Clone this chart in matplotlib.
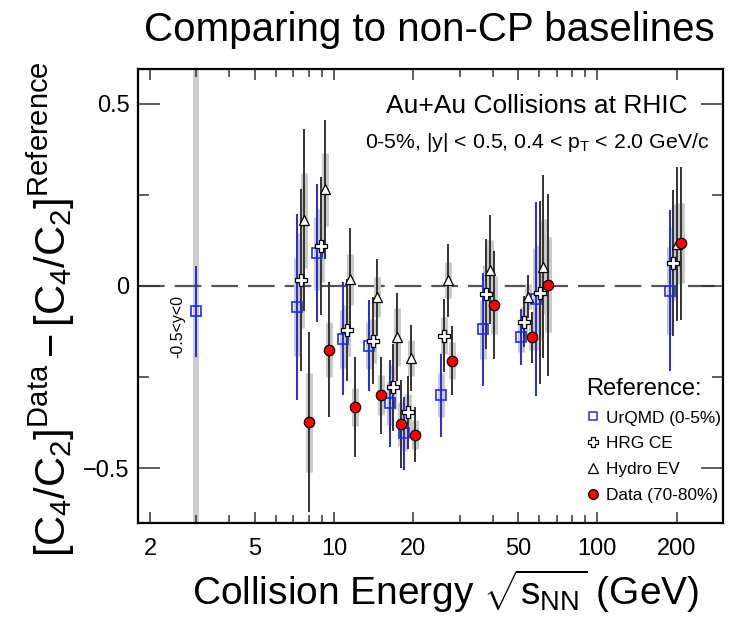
import numpy as np
import matplotlib
matplotlib.use('Agg')
import matplotlib.pyplot as plt
from matplotlib.lines import Line2D
from matplotlib.ticker import FixedLocator, NullFormatter

plt.rcParams['font.family'] = ['Liberation Sans', 'DejaVu Sans']
plt.rcParams['mathtext.fontset'] = 'custom'
plt.rcParams['mathtext.rm'] = 'Liberation Sans'
plt.rcParams['mathtext.it'] = 'Liberation Sans'
plt.rcParams['mathtext.bf'] = 'Liberation Sans:bold'

# collision energies (GeV)
energy = [7.7, 9.2, 11.5, 14.5, 17.3, 19.6, 27, 39, 54.4, 62.4, 200]

# UrQMD (0-5%)
urqmd = [-0.057, 0.090, -0.145, -0.164, -0.322, -0.404, -0.300, -0.119, -0.141, -0.036, -0.013]
urqmd_stat = [0.255, 0.19, 0.155, 0.125, 0.12, 0.10, 0.113, 0.155, 0.077, 0.265, 0.22]
urqmd_sys = [0.135, 0.10, 0.08, 0.065, 0.06, 0.05, 0.06, 0.08, 0.04, 0.14, 0.12]
# 3 GeV point (-0.5<y<0)
e_fxt = [3.0]
urqmd_fxt = [-0.069]
urqmd_fxt_stat = [0.125]

# HRG CE
hrg = [0.016, 0.110, -0.122, -0.150, -0.278, -0.347, -0.136, -0.022, -0.098, -0.018, 0.062]
hrg_stat = [0.25, 0.19, 0.14, 0.12, 0.12, 0.10, 0.10, 0.15, 0.07, 0.25, 0.20]
hrg_sys = [0.13, 0.10, 0.07, 0.06, 0.06, 0.05, 0.05, 0.08, 0.04, 0.13, 0.10]

# Hydro EV
hydro = [0.180, 0.265, 0.018, -0.031, -0.140, -0.197, 0.016, 0.045, -0.029, 0.053, 0.115]
hydro_stat = [0.25, 0.19, 0.14, 0.105, 0.12, 0.09, 0.10, 0.15, 0.06, 0.25, 0.21]
hydro_sys = [0.13, 0.10, 0.07, 0.055, 0.08, 0.05, 0.05, 0.08, 0.035, 0.13, 0.11]

# Data (70-80%)
data = [-0.374, -0.175, -0.332, -0.300, -0.378, -0.408, -0.205, -0.052, -0.141, 0.003, 0.117]
data_stat = [0.247, 0.185, 0.138, 0.105, 0.12, 0.075, 0.095, 0.147, 0.07, 0.25, 0.21]
data_sys = [0.135, 0.075, 0.053, 0.055, 0.06, 0.04, 0.05, 0.08, 0.035, 0.13, 0.11]

blue = '#1f2be8'
dark = '#333333'
box = '#c9c9c9'

fig = plt.figure(figsize=(7.37, 6.17), dpi=100)
ax = fig.add_axes([0.1872, 0.1524, 0.7938, 0.7358])

E = np.array(energy)
series = [
    (E * 0.94, urqmd, urqmd_stat, urqmd_sys, blue, dict(marker='s', mfc='none', mec=blue, ms=6.5, mew=1.2)),
    (E * 0.97, hrg, hrg_stat, hrg_sys, dark, dict(marker='P', mfc='white', mec='black', ms=8, mew=0.9)),
    (E * 1.00, hydro, hydro_stat, hydro_sys, dark, dict(marker='^', mfc='white', mec='black', ms=7, mew=0.9)),
    (E * 1.04, data, data_stat, data_sys, dark, dict(marker='o', mfc='#ff0000', mec='black', ms=7.5, mew=0.9)),
]

# 3 GeV band
ax.axvspan(2.92, 3.08, color='#cccccc', lw=0, zorder=0)
ax.axhline(0, color='#555555', lw=1.6, dashes=(12, 4.5), zorder=1)

for x, y, st, sy, ecol, mk in series:
    y = np.array(y)
    ax.vlines(x, y - np.array(sy), y + np.array(sy), color=box, lw=5, zorder=2)
    ax.vlines(x, y - np.array(st), y + np.array(st), color=ecol, lw=1.4, zorder=3)
    ax.plot(x, y, ls='none', zorder=5, **mk)

ax.vlines(e_fxt, np.array(urqmd_fxt) - urqmd_fxt_stat, np.array(urqmd_fxt) + urqmd_fxt_stat,
          color=blue, lw=1.4, zorder=3)
ax.plot(e_fxt, urqmd_fxt, ls='none', zorder=5, **series[0][5])
ax.text(2.55, -0.11, '-0.5<y<0', rotation=90, ha='center', va='center', fontsize=11.5)

ax.set_xscale('log')
ax.set_xlim(1.8, 300)
ax.set_ylim(-0.65, 0.595)

ax.xaxis.set_major_locator(FixedLocator([2, 5, 10, 20, 50, 100, 200]))
ax.xaxis.set_minor_locator(FixedLocator([3, 4, 6, 7, 8, 9, 30, 40, 60, 70, 80, 90]))
ax.xaxis.set_minor_formatter(NullFormatter())
ax.set_xticklabels(['2', '5', '10', '20', '50', '100', '200'])
ax.set_yticks([-0.5, 0, 0.5])
ax.set_yticklabels(['\u22120.5', '0', '0.5'])
ax.set_yticks([-0.25, 0.25], minor=True)
ax.tick_params(which='both', direction='in', top=True, right=True, labelsize=17, width=1.1, color='#333333')
ax.tick_params(axis='x', which='major', length=8, pad=11)
ax.tick_params(axis='x', which='minor', length=6)
ax.tick_params(axis='y', which='major', length=16, pad=6)
ax.tick_params(axis='y', which='minor', length=8)
for s in ax.spines.values():
    s.set_linewidth(1.6)

ax.set_xlabel(r'Collision Energy $\sqrt{s_{\rm NN}}$ (GeV)', fontsize=28)
ax.xaxis.set_label_coords(0.526, -0.1)
ax.set_ylabel(r'$[C_4/C_2]^{\rm Data} - [C_4/C_2]^{\rm Reference}$', fontsize=30)
ax.yaxis.set_label_coords(-0.105, 0.472)

ax.text(0.682, 0.918, 'Au+Au Collisions at RHIC', transform=ax.transAxes,
        ha='center', va='center', fontsize=19)
ax.text(0.682, 0.839, r'0-5%, |y| < 0.5, 0.4 < p$_{\rm T}$ < 2.0 GeV/c', transform=ax.transAxes,
        ha='center', va='center', fontsize=15.3)

handles = [
    Line2D([], [], ls='none', marker='s', mfc='none', mec=blue, ms=6, mew=1.1),
    Line2D([], [], ls='none', marker='P', mfc='white', mec='black', ms=7.5, mew=0.9),
    Line2D([], [], ls='none', marker='^', mfc='white', mec='black', ms=6.5, mew=0.9),
    Line2D([], [], ls='none', marker='o', mfc='#ff0000', mec='black', ms=7, mew=0.9),
]
labels = ['UrQMD (0-5%)', 'HRG CE', 'Hydro EV', 'Data (70-80%)']
leg = ax.legend(handles, labels, title='Reference:', loc='upper left', bbox_to_anchor=(0.755, 0.335),
                frameon=False, fontsize=12.4, title_fontsize=17, handlelength=0.7, handletextpad=0.45,
                labelspacing=0.62, borderaxespad=0, alignment='left')

fig.text(0.583, 0.951, 'Comparing to non-CP baselines', ha='center', va='center', fontsize=29)

fig.savefig('out.png', dpi=100)
